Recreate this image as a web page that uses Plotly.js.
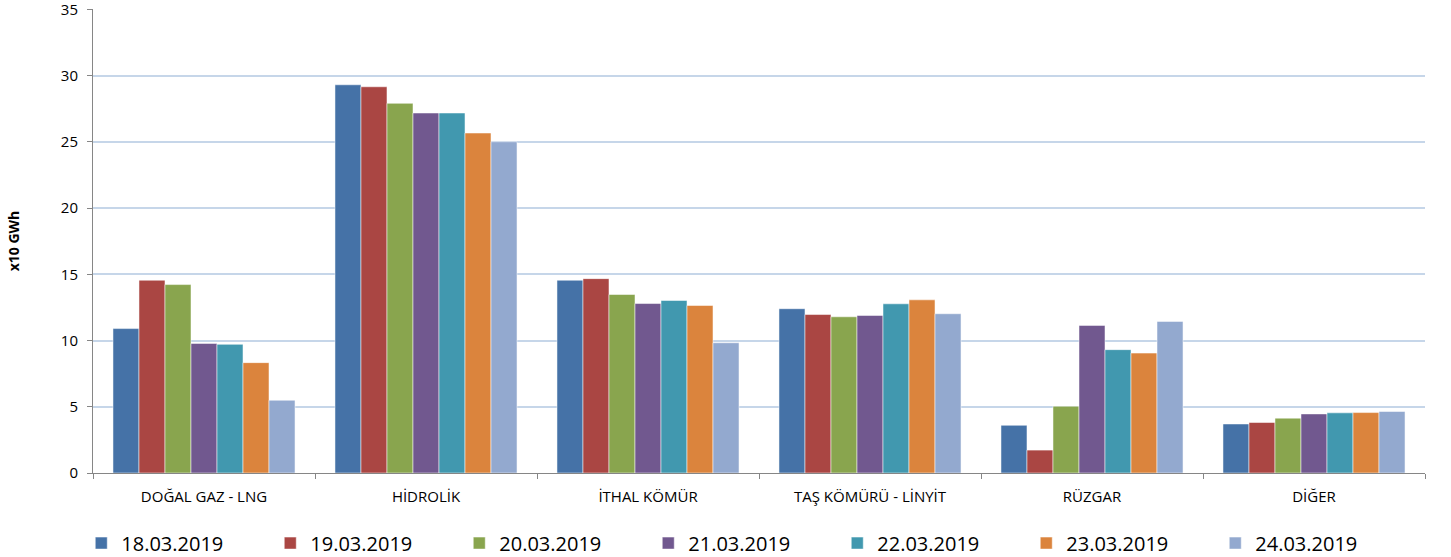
<!DOCTYPE html>
<html>
<head>
<meta charset="utf-8">
<script src="https://cdn.plot.ly/plotly-3.0.1.min.js"></script>
<style>
  body { margin: 0; background: #fff; }
  #plotArea { width: 1451px; height: 557px; }
</style>
</head>
<body>
<div id="plotArea"></div>
<script>
// categories and daily series (x10 GWh)
var categories = ["DOĞAL GAZ - LNG", "HİDROLİK", "İTHAL KÖMÜR", "TAŞ KÖMÜRÜ - LİNYİT", "RÜZGAR", "DİĞER"];
var dates = ["18.03.2019", "19.03.2019", "20.03.2019", "21.03.2019", "22.03.2019", "23.03.2019", "24.03.2019"];

var d18 = [10.9, 29.3, 14.55, 12.4, 3.6, 3.7];
var d19 = [14.55, 29.15, 14.67, 11.96, 1.73, 3.81];
var d20 = [14.22, 27.9, 13.47, 11.79, 5.04, 4.14];
var d21 = [9.78, 27.17, 12.79, 11.89, 11.14, 4.46];
var d22 = [9.71, 27.17, 13.02, 12.77, 9.31, 4.54];
var d23 = [8.33, 25.66, 12.64, 13.07, 9.05, 4.56];
var d24 = [5.49, 25.0, 9.83, 12.02, 11.44, 4.64];

var colors = ["#4572A7", "#AA4643", "#89A54E", "#71588F", "#4198AF", "#DB843D", "#93A9CF"];
var series = [d18, d19, d20, d21, d22, d23, d24];

var fontName = "Open Sans, sans-serif";

var data = [];
for (var i = 0; i < series.length; i++) {
    data.push({
        x: categories,
        y: series[i],
        name: dates[i],
        type: "bar",
        marker: {color: colors[i], line: {color: "rgba(255,255,255,0.5)", width: 1}}
    });
}

var layout = {
    barmode: "group",
    bargap: 0.18,
    bargroupgap: 0,
    paper_bgcolor: "#fff",
    plot_bgcolor: "#fff",
    font: {family: fontName, color: "#000"},
    margin: {l: 93, r: 26, t: 9, b: 84},
    showlegend: true,
    legend: {
        orientation: "h",
        xref: "container",
        yref: "container",
        x: 0.056,
        y: 0.025,
        xanchor: "left",
        yanchor: "middle",
        bgcolor: "rgba(0,0,0,0)",
        entrywidth: 144,
        entrywidthmode: "pixels",
        font: {size: 20, family: fontName},
        itemwidth: 30,
        tracegroupgap: 0
    },
    xaxis: {
        type: "category",
        showline: true,
        linecolor: "#868686",
        linewidth: 1,
        ticks: "outside",
        tickson: "boundaries",
        ticklen: 5,
        tickcolor: "#868686",
        ticklabelstandoff: 10,
        tickfont: {size: 15, family: fontName},
        showgrid: false
    },
    yaxis: {
        title: {text: "<b>x10 GWh</b>", font: {size: 14, family: fontName}, standoff: 37},
        range: [0, 35.02],
        tickvals: [0, 5, 10, 15, 20, 25, 30, 35],
        showline: true,
        linecolor: "#868686",
        linewidth: 1,
        ticks: "outside",
        ticklen: 5,
        tickcolor: "#868686",
        ticklabelstandoff: 6,
        ticklabeloverflow: "allow",
        tickfont: {size: 15, family: fontName},
        showgrid: true,
        gridcolor: "#C6D6E9",
        gridwidth: 1.5,
        zeroline: false
    }
};

Plotly.newPlot("plotArea", data, layout, {displayModeBar: false});
</script>
</body>
</html>
